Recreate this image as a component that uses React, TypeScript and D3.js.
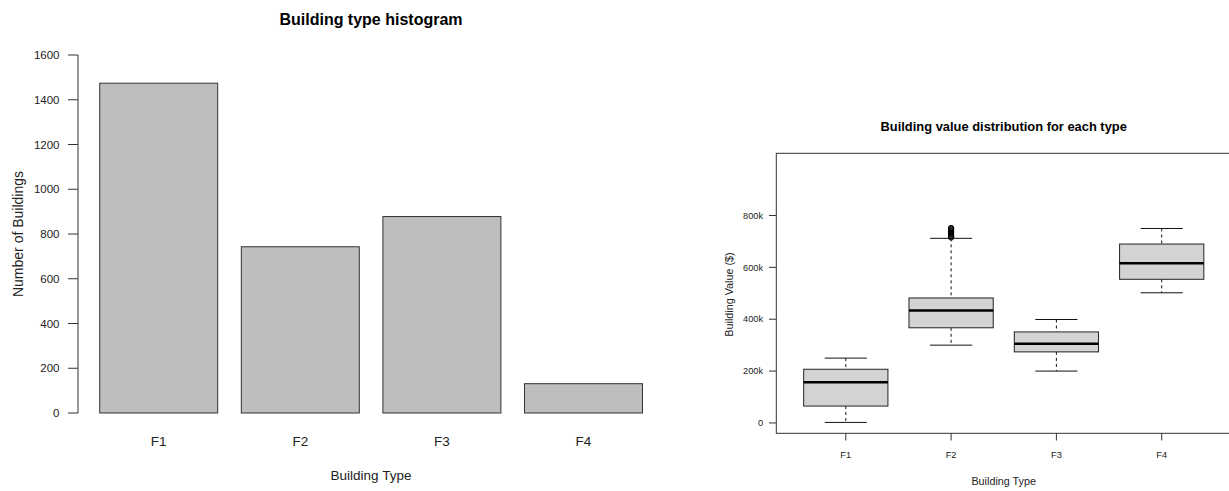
import * as d3 from "d3";

const types = ["F1", "F2", "F3", "F4"];
const counts = [1474, 743, 878, 131];
const countTicks = [0, 200, 400, 600, 800, 1000, 1200, 1400, 1600];

// box stats per type: lower whisker, q1, median, q3, upper whisker
const whiskLo = [2000, 300000, 200000, 502000];
const q1 = [65000, 367000, 274000, 554000];
const med = [157000, 434000, 305000, 616000];
const q3 = [207000, 482000, 351000, 690000];
const whiskHi = [250000, 712000, 399000, 750000];
const f2Outliers = [715000, 719000, 722000, 726000, 729000, 733000, 736000, 740000, 743000, 747000, 750000, 752000];
const valueTicks = [0, 200000, 400000, 600000, 800000];
const valueTickLabels = ["0", "200k", "400k", "600k", "800k"];

const font = "Liberation Sans, Arial, Helvetica, sans-serif";

const App = () => {
  // left: barplot in R user units (bars width 1, space 0.2)
  const bx = d3.scaleLinear().domain([0.016, 4.984]).range([78, 664.2]);
  const by = d3.scaleLinear().domain([0, 1600]).range([413, 55]);

  // right: boxplot
  const px = d3.scaleLinear().domain([0.34, 4.66]).range([776.3, 1231.2]);
  const py = d3.scaleLinear().domain([-40000, 1040000]).range([433.3, 153.3]);
  const boxHalf = px(1.4) - px(1);
  const stapleHalf = px(1.2) - px(1);
  const axX = bx.range()[0];

  return (
    <svg
      width={1229}
      height={491}
      style={{ position: "absolute", left: 0, top: 0, background: "#fff" }}
      fontFamily={font}
    >
      {/* ---------- histogram ---------- */}
      <text x={371} y={25} textAnchor="middle" fontSize={16} fontWeight="bold">
        Building type histogram
      </text>
      {counts.map((c, i) => (
        <rect
          key={i}
          x={bx(0.2 + i * 1.2)}
          y={by(c)}
          width={bx(1.2 + i * 1.2) - bx(0.2 + i * 1.2)}
          height={by(0) - by(c)}
          fill="#bebebe"
          stroke="#333"
          strokeWidth={1}
        />
      ))}
      <line x1={axX} x2={axX} y1={by(0)} y2={by(1600)} stroke="#333" />
      {countTicks.map((t) => (
        <g key={t}>
          <line x1={axX - 10} x2={axX} y1={by(t)} y2={by(t)} stroke="#333" />
          <text x={59.5} y={by(t)} dy="0.35em" textAnchor="end" fontSize={11.5} fill="#222">
            {t}
          </text>
        </g>
      ))}
      {types.map((t, i) => (
        <text key={t} x={bx(0.7 + i * 1.2)} y={445.5} textAnchor="middle" fontSize={13.5} fill="#222">
          {t}
        </text>
      ))}
      <text x={371} y={480} textAnchor="middle" fontSize={13.5} fill="#222">
        Building Type
      </text>
      <text
        transform={`translate(23,234) rotate(-90)`}
        textAnchor="middle"
        fontSize={14}
        fill="#222"
      >
        Number of Buildings
      </text>

      {/* ---------- boxplot ---------- */}
      <text x={1003.7} y={130.5} textAnchor="middle" fontSize={12.9} fontWeight="bold">
        Building value distribution for each type
      </text>
      {types.map((t, i) => {
        const cx = px(i + 1);
        return (
          <g key={t}>
            <line x1={cx} x2={cx} y1={py(whiskHi[i])} y2={py(q3[i])} stroke="#111" strokeDasharray="3,3" />
            <line x1={cx} x2={cx} y1={py(q1[i])} y2={py(whiskLo[i])} stroke="#111" strokeDasharray="3,3" />
            <line x1={cx - stapleHalf} x2={cx + stapleHalf} y1={py(whiskHi[i])} y2={py(whiskHi[i])} stroke="#111" />
            <line x1={cx - stapleHalf} x2={cx + stapleHalf} y1={py(whiskLo[i])} y2={py(whiskLo[i])} stroke="#111" />
            <rect
              x={cx - boxHalf}
              y={py(q3[i])}
              width={boxHalf * 2}
              height={py(q1[i]) - py(q3[i])}
              fill="#d3d3d3"
              stroke="#222"
            />
            <line x1={cx - boxHalf} x2={cx + boxHalf} y1={py(med[i])} y2={py(med[i])} stroke="#000" strokeWidth={2.5} />
          </g>
        );
      })}
      {f2Outliers.map((v, j) => (
        <circle key={j} cx={px(2)} cy={py(v)} r={2.6} fill="none" stroke="#000" strokeWidth={1} />
      ))}
      <rect
        x={px(0.34)}
        y={py(1040000)}
        width={px(4.66) - px(0.34)}
        height={py(-40000) - py(1040000)}
        fill="none"
        stroke="#333"
      />
      {valueTicks.map((t, i) => (
        <g key={t}>
          <line x1={769} x2={776.3} y1={py(t)} y2={py(t)} stroke="#333" />
          <text x={763} y={py(t)} dy="0.35em" textAnchor="end" fontSize={9.2} fill="#222">
            {valueTickLabels[i]}
          </text>
        </g>
      ))}
      {types.map((t, i) => (
        <g key={t}>
          <line x1={px(i + 1)} x2={px(i + 1)} y1={433.3} y2={440.5} stroke="#333" />
          <text x={px(i + 1)} y={457.5} textAnchor="middle" fontSize={9.3} fill="#222">
            {t}
          </text>
        </g>
      ))}
      <text x={1003.7} y={485} textAnchor="middle" fontSize={10.8} fill="#222">
        Building Type
      </text>
      <text
        transform={`translate(733,294.5) rotate(-90)`}
        textAnchor="middle"
        fontSize={10.8}
        fill="#222"
      >
        Building Value ($)
      </text>
    </svg>
  );
};

export default App;
